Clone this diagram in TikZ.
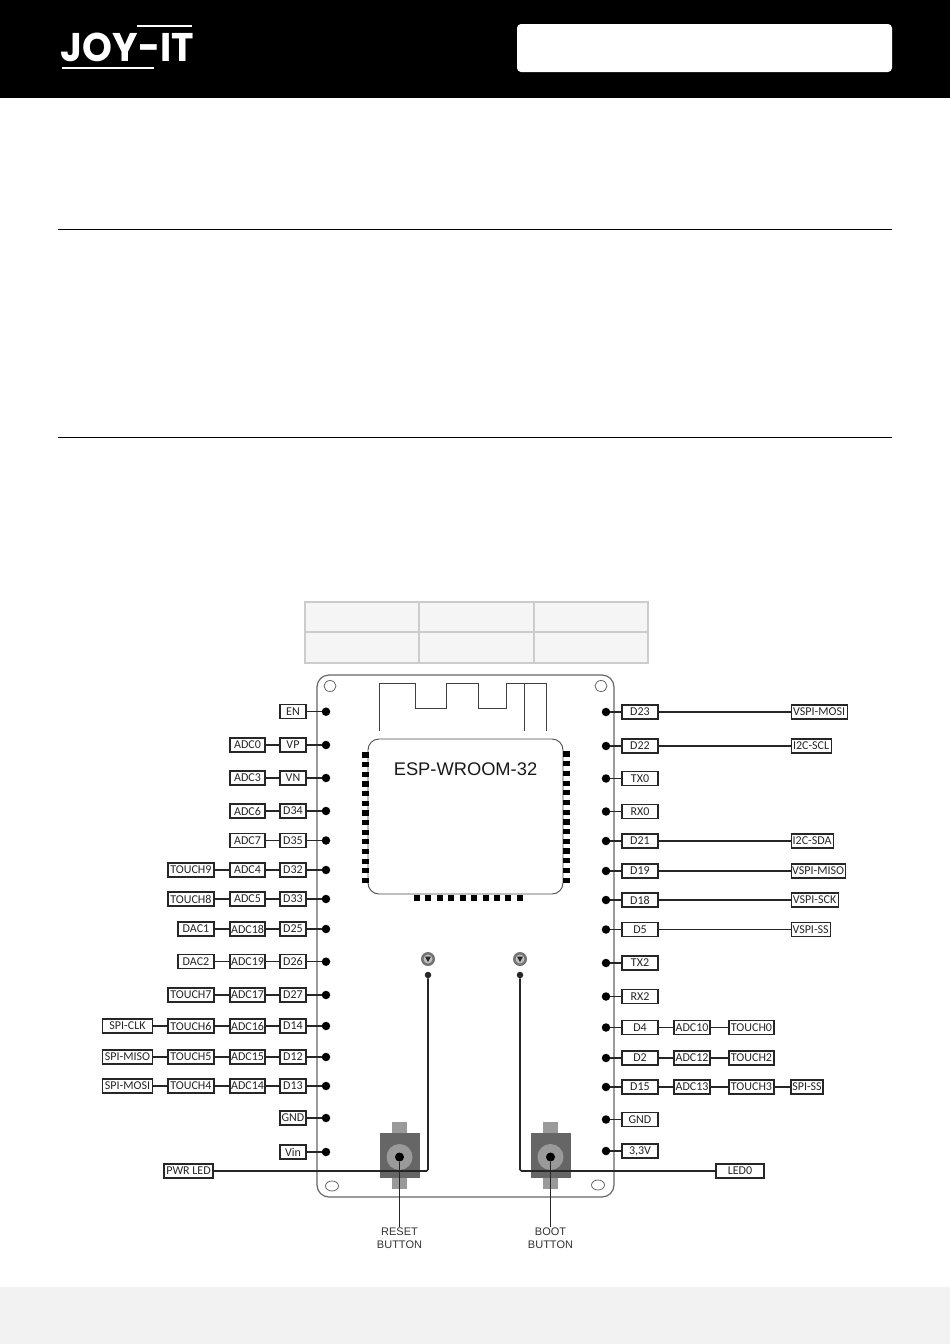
\documentclass[tikz,border=0pt]{standalone}
\usepackage{fontspec}
\setmainfont{Carlito}
\newfontfamily\arialfont{Liberation Sans}
\newfontfamily\logofont{Poppins}
\definecolor{boardline}{HTML}{666666}
\definecolor{tabgrey}{HTML}{9A9A9A}
\definecolor{bodygrey}{HTML}{666666}
\definecolor{cellgrey}{HTML}{F5F5F5}
\definecolor{cellline}{HTML}{CCCCCC}
\definecolor{footgrey}{HTML}{F2F2F2}
\tikzset{
  pinbox/.style={draw=black!85, fill=white, line width=1.2pt, inner sep=0pt, minimum height=14pt, text=black!85, font=\fontsize{12}{12}\selectfont},
  pindot/.style={circle, fill=black, inner sep=0pt, minimum size=8.5pt},
  seldot/.style={circle, fill=black!85, inner sep=0pt, minimum size=6.5pt},
  wire/.style={black!85, line width=1.2pt},
  ledwire/.style={black!85, line width=1.6pt, rounded corners=1.5pt},
  btntext/.style={font=\arialfont\fontsize{11}{13}\selectfont, align=center, text=black!80, inner sep=0pt},
}
\begin{document}
\begin{tikzpicture}[x=1pt, y=-1pt]
\useasboundingbox (0,0) rectangle (950,1344);

\fill[black] (0,0) rectangle (950,98); %header
\fill[white, rounded corners=4pt] (517,24) rectangle (892,72);
\node[text=white, inner sep=0pt, xscale=.95, font=\logofont\bfseries\fontsize{40}{40}\selectfont] (logo) at (127.5,47.5) {JOY-IT};
\fill[white] (137,24.8) rectangle (192,27.2);
\fill[white] (62,66.8) rectangle (154,69.2);

\draw[black, line width=1pt] (58,229.5) -- (892,229.5);
\draw[black, line width=1pt] (58,437.5) -- (892,437.5);
\fill[footgrey] (0,1287) rectangle (950,1344); %footer

% table
\draw[cellline, fill=cellgrey, line width=2pt] (305,601.5) rectangle (648,663);
\draw[cellline, line width=2pt] (418.5,601.5) -- (418.5,663);
\draw[cellline, line width=2pt] (533.5,601.5) -- (533.5,663);
\draw[cellline, line width=2pt] (305,631.5) -- (648,631.5);

% board
\draw[boardline, line width=1.2pt, rounded corners=12pt] (317,675) rectangle (614,1197);
\draw[boardline, line width=.8pt] (330,686) ellipse (6 and 5.5);
\draw[boardline, line width=.8pt] (601,686) ellipse (6 and 5.5);
\draw[boardline, line width=.8pt] (332,1186) ellipse (6.5 and 5);
\draw[boardline, line width=.8pt] (598,1185) ellipse (6.5 and 5);

% antenna
\draw[black!75, line width=.9pt] (379,731) -- (379,683) -- (415,683) -- (415,708) -- (446,708) -- (446,683) -- (478,683) -- (478,708) -- (506,708) -- (506,683) -- (546,683) -- (546,731);
\draw[black!75, line width=.9pt] (524,683) -- (524,731);

% module
\node[draw=black!70, fill=white, line width=.9pt, rounded corners=11pt, minimum width=195pt, minimum height=155pt, inner sep=0pt] (wroom) at (465.5,816.5) {};
\node[inner sep=0pt, text=black!90, font=\arialfont\fontsize{18.3}{20}\selectfont] (wroomtext) at (465.5,769) {ESP-WROOM-32};
\foreach \i in {0,...,13}{
  \fill[black] (362,{755+9.65*\i-2.6}) rectangle (368.5,{755+9.65*\i+2.6});
  \fill[black] (563,{754+9.7*\i-2.6}) rectangle (570,{754+9.7*\i+2.6});
}
\foreach \i in {0,...,9}
  \fill[black] ({417+11.43*\i-3},894.5) rectangle ({417+11.43*\i+3},901);

% left pins
\foreach \name/\txt/\ypos in {en/EN/711.7, vp/VP/745, vn/VN/778, dd34/D34/811, dd35/D35/840.5, dd32/D32/870, dd33/D33/899, dd25/D25/929, dd26/D26/961.7, dd27/D27/995, dd14/D14/1026, dd12/D12/1057, dd13/D13/1086, gndl/GND/1118, vin/Vin/1152}{
  \node[pinbox, minimum width=26pt] (\name) at (293,\ypos) {\txt};
  \node[pindot] (dot\name) at (326,\ypos) {};
  \draw[wire] (\name) -- (dot\name);
}
\foreach \name/\txt/\pin in {adcz/ADC0/vp, adct/ADC3/vn, adcs/ADC6/dd34, adcv/ADC7/dd35, adcf/ADC4/dd32, adcg/ADC5/dd33, adcei/ADC18/dd25, adcni/ADC19/dd26, adcse/ADC17/dd27, adcsi/ADC16/dd14, adcfi/ADC15/dd12, adcfo/ADC14/dd13}{
  \node[pinbox, minimum width=35pt] (\name) at (247.5,0 |- \pin) {\txt};
  \draw[wire] (\name) -- (\pin);
}
\foreach \name/\txt/\pin in {tnine/TOUCH9/adcf, teight/TOUCH8/adcg, tseven/TOUCH7/adcse, tsix/TOUCH6/adcsi, tfive/TOUCH5/adcfi, tfour/TOUCH4/adcfo}{
  \node[pinbox, minimum width=46pt] (\name) at (191,0 |- \pin) {\txt};
  \draw[wire] (\name) -- (\pin);
}
\foreach \name/\txt/\pin in {dacone/DAC1/adcei, dactwo/DAC2/adcni}{
  \node[pinbox, minimum width=36pt] (\name) at (196,0 |- \pin) {\txt};
  \draw[wire] (\name) -- (\pin);
}
\foreach \name/\txt/\pin in {spiclk/SPI-CLK/tsix, spimiso/SPI-MISO/tfive, spimosi/SPI-MOSI/tfour}{
  \node[pinbox, minimum width=50pt] (\name) at (127.5,0 |- \pin) {\txt};
  \draw[wire] (\name) -- (\pin);
}

% right pins
\foreach \name/\txt/\ypos in {rdd23/D23/712, rdd22/D22/746, txz/TX0/778.5, rxz/RX0/811.5, rdd21/D21/841, rdd19/D19/871, rdd18/D18/900, rdd5/D5/929.5, txt/TX2/963, rxt/RX2/996.5, rdd4/D4/1027.5, rdd2/D2/1058, rdd15/D15/1087, gndr/GND/1119.5, vcc/{3,3V}/1151}{
  \node[pinbox, minimum width=36pt] (\name) at (640,\ypos) {\txt};
  \node[pindot] (dot\name) at (606,\ypos) {};
  \draw[wire] (\name) -- (dot\name);
}
\foreach \name/\txt/\pin/\wid in {vmosi/VSPI-MOSI/rdd23/56, iscl/I2C-SCL/rdd22/40, isda/I2C-SDA/rdd21/42, vmiso/VSPI-MISO/rdd19/54, vsck/VSPI-SCK/rdd18/47, vss/VSPI-SS/rdd5/39}{
  \node[pinbox, minimum width=\wid pt, anchor=west] (\name) at (790.5,0 |- \pin) {\txt};
  \draw[wire] (\name) -- (\pin);
}
\foreach \name/\txt/\pin in {adcten/ADC10/rdd4, adctw/ADC12/rdd2, adcth/ADC13/rdd15}{
  \node[pinbox, minimum width=36pt] (\name) at (692,0 |- \pin) {\txt};
  \draw[wire] (\name) -- (\pin);
}
\foreach \name/\txt/\pin in {tzero/TOUCH0/adcten, ttwo/TOUCH2/adctw, tthree/TOUCH3/adcth}{
  \node[pinbox, minimum width=45pt] (\name) at (751.5,0 |- \pin) {\txt};
  \draw[wire] (\name) -- (\pin);
}
\node[pinbox, minimum width=32pt] (spiss) at (807,0 |- tthree) {SPI-SS};
\draw[wire] (spiss) -- (tthree);

% buttons
\foreach \bx/\bname in {399.5/reset, 550.5/boot}{
  \fill[tabgrey] ({\bx-7.5},1122) rectangle ({\bx+7.5},1189);
  \fill[bodygrey] ({\bx-20},1133) rectangle ({\bx+20},1178);
  \fill[tabgrey] (\bx,1157) circle (13);
  \node[circle, fill=black, inner sep=0pt, minimum size=9pt] (\bname) at (\bx,1157) {};
}

% leds
\foreach \lx/\lname in {428/ledl, 520/ledr}{
  \fill[black!55] (\lx,959) circle (7);
  \fill[black!25] (\lx,959) circle (4.5);
  \fill[black!85] ({\lx-3},956.5) -- ({\lx+3},956.5) -- (\lx,962) -- cycle;
  \node[seldot] (\lname) at (\lx,975) {};
}

\node[pinbox, minimum width=49pt] (pwrled) at (188.5,1171) {PWR LED};
\node[pinbox, minimum width=48pt] (ledz) at (740,1171) {LED0};
\draw[ledwire] (pwrled) -| (ledl);
\draw[ledwire] (ledz) -| (ledr);

\node[btntext] (resettext) at (399.5,1238) {RESET\\BUTTON};
\node[btntext] (boottext) at (550.5,1238) {BOOT\\BUTTON};
\draw[black!85, line width=1.6pt] (reset) -- (resettext);
\draw[black!85, line width=1.6pt] (boot) -- (boottext);

\end{tikzpicture}
\end{document}
